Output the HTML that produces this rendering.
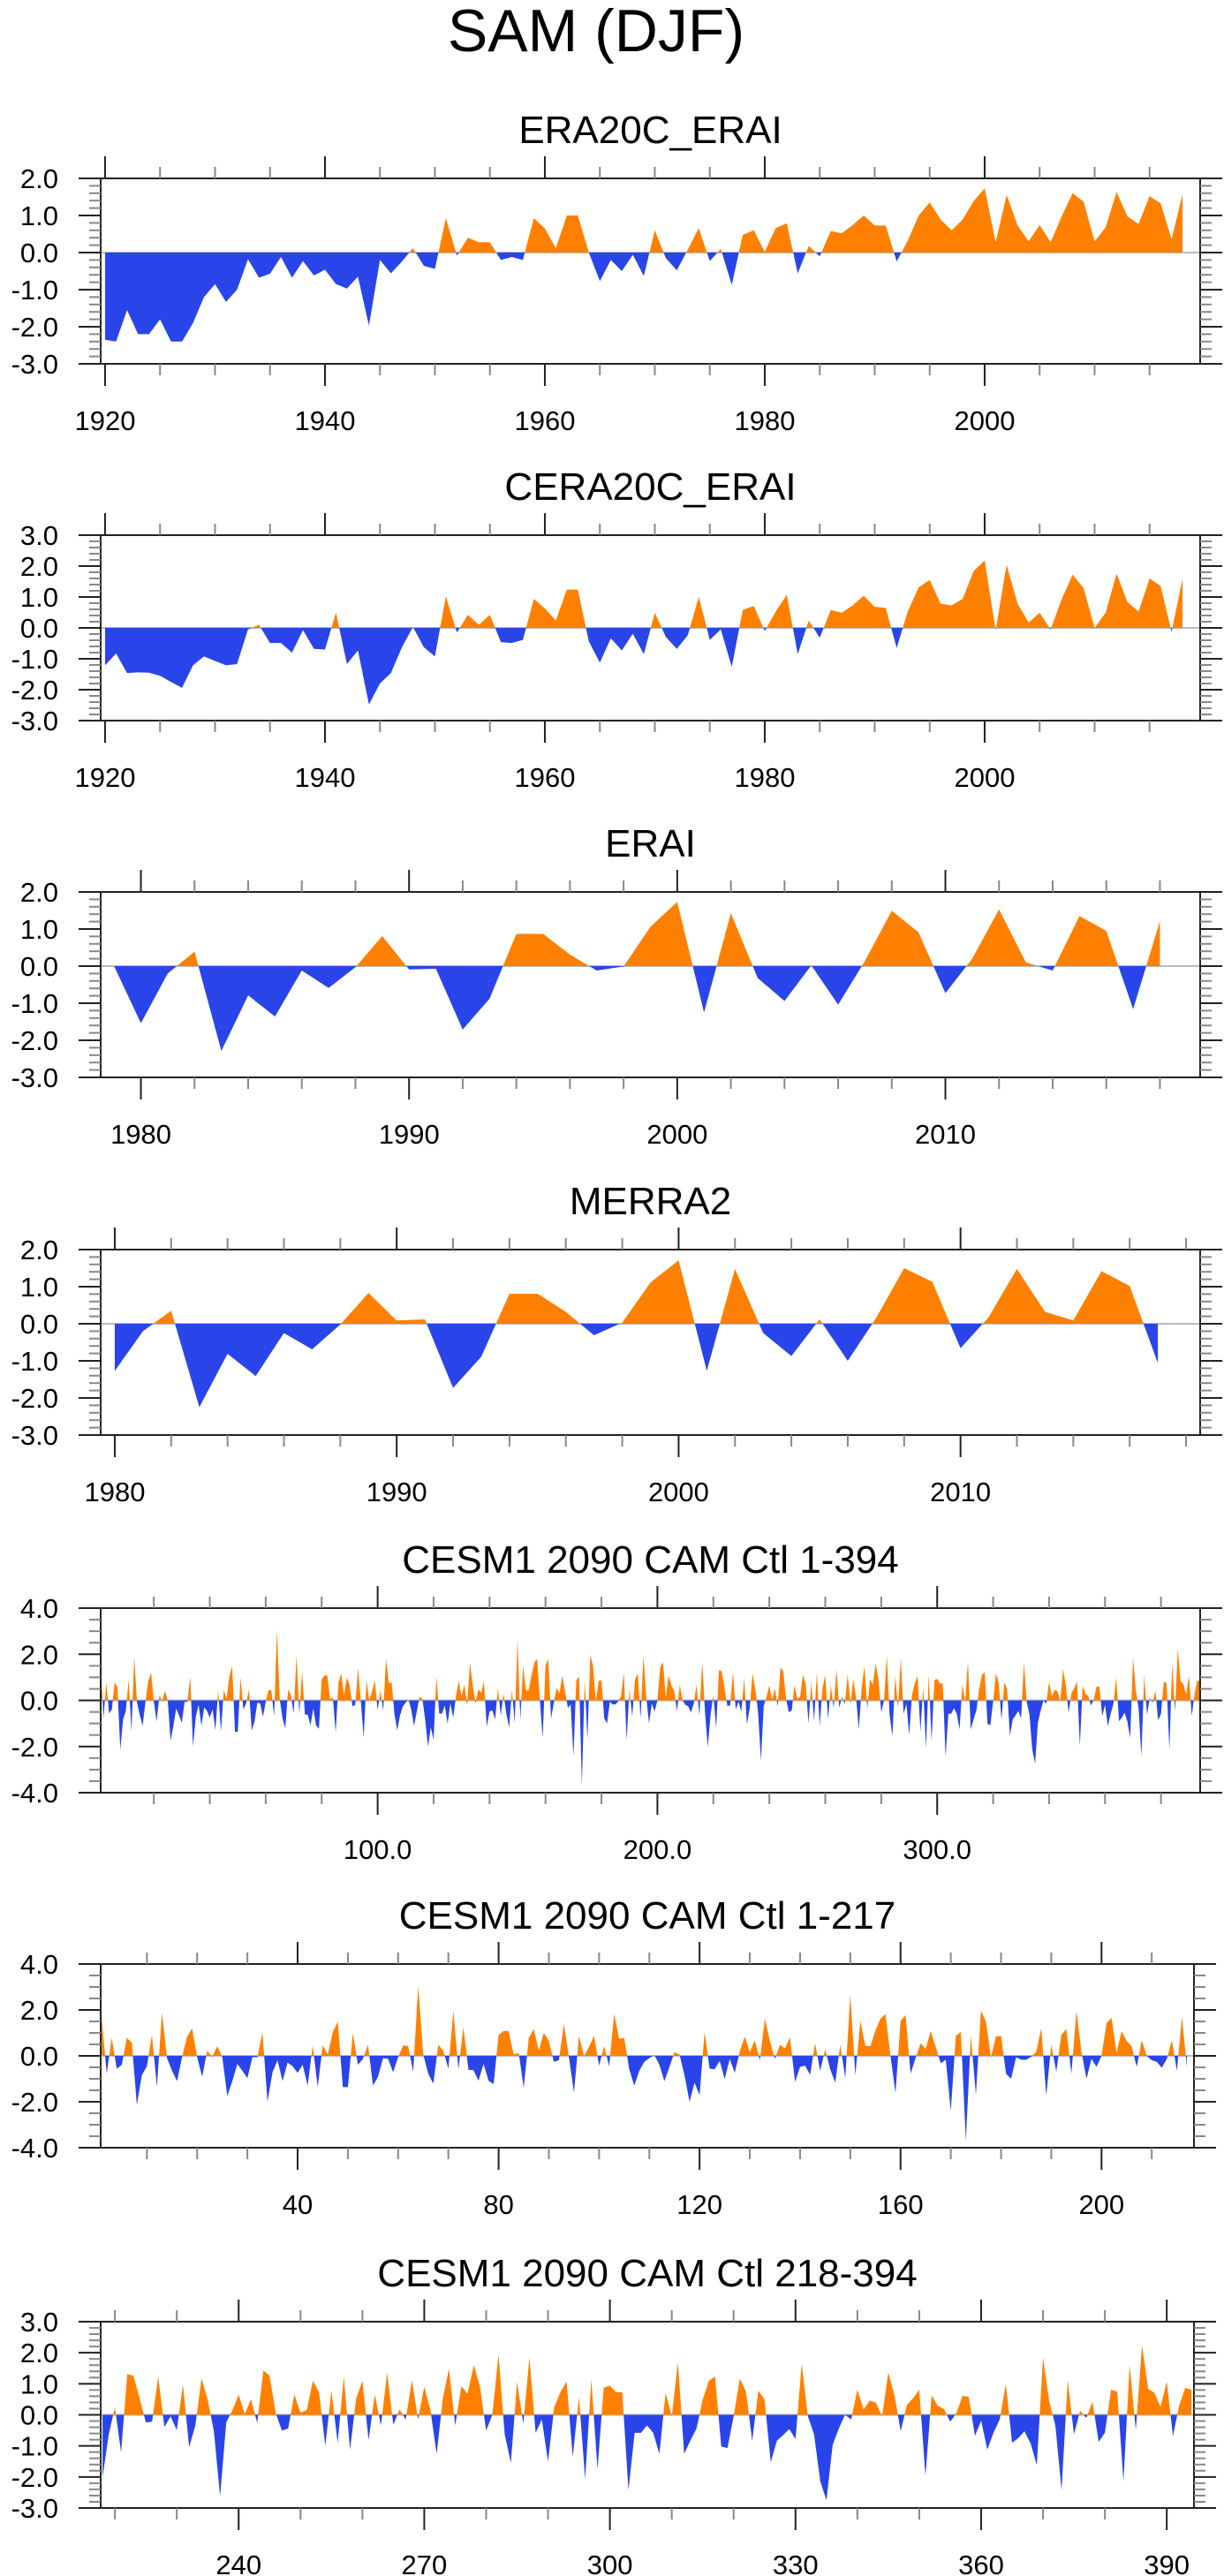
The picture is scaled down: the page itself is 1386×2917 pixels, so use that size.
<!DOCTYPE html>
<html><head><meta charset="utf-8"><title>SAM (DJF)</title>
<style>
html,body{margin:0;padding:0;background:#fff;}
svg{display:block;font-family:"Liberation Sans",Arial,sans-serif;}
</style></head>
<body>
<svg id="chart" width="1386" height="2917" viewBox="0 0 1386 2917" xmlns="http://www.w3.org/2000/svg">
<text x="675" y="58" font-size="68" text-anchor="middle">SAM (DJF)</text>
</svg>
<script>
// ---- data ----
const era20cYears = [1920,2018];
const era20cValues = [-2.35,-2.4,-1.55,-2.2,-2.2,-1.8,-2.4,-2.4,-1.9,-1.2,-0.85,-1.33,-1.0,-0.18,-0.68,-0.57,-0.12,-0.68,-0.23,-0.62,-0.46,-0.85,-0.97,-0.65,-1.97,-0.2,-0.56,-0.24,0.12,-0.36,-0.44,0.93,-0.08,0.4,0.28,0.28,-0.2,-0.12,-0.2,0.93,0.65,0.12,1.0,1.0,0.0,-0.77,-0.2,-0.5,-0.06,-0.63,0.6,-0.15,-0.48,0.08,0.66,-0.23,0.1,-0.87,0.48,0.6,0.02,0.66,0.79,-0.56,0.18,-0.1,0.58,0.52,0.74,1.0,0.73,0.73,-0.24,0.32,1.0,1.35,0.89,0.6,0.89,1.39,1.73,0.28,1.55,0.73,0.3,0.74,0.28,0.97,1.6,1.37,0.3,0.68,1.63,0.97,0.77,1.52,1.33,0.36,1.57];
const cera20cYears = [1920,2018];
const cera20cValues = [-1.21,-0.83,-1.46,-1.44,-1.45,-1.55,-1.75,-1.94,-1.21,-0.92,-1.07,-1.21,-1.17,-0.05,0.1,-0.49,-0.49,-0.8,-0.07,-0.68,-0.7,0.49,-1.17,-0.73,-2.48,-1.8,-1.46,-0.63,0.03,-0.63,-0.92,1.02,-0.15,0.42,0.1,0.42,-0.46,-0.49,-0.39,0.94,0.63,0.24,1.24,1.24,-0.44,-1.12,-0.34,-0.73,-0.19,-0.85,0.49,-0.29,-0.68,-0.24,1.0,-0.39,-0.05,-1.26,0.58,0.71,-0.1,0.53,1.07,-0.85,0.24,-0.32,0.58,0.49,0.73,1.04,0.68,0.65,-0.65,0.53,1.31,1.55,0.78,0.73,0.94,1.84,2.18,-0.07,2.04,0.78,0.17,0.49,-0.05,0.92,1.72,1.29,0.0,0.49,1.75,0.83,0.53,1.6,1.36,-0.13,1.6];
const eraiYears = [1979,2018];
const eraiValues = [0.0,-1.54,-0.2,0.39,-2.29,-0.79,-1.36,-0.12,-0.59,-0.03,0.81,-0.09,-0.07,-1.71,-0.88,0.87,0.87,0.31,-0.12,-0.01,1.06,1.73,-1.25,1.43,-0.32,-0.94,0.02,-1.04,0.14,1.49,0.91,-0.73,0.2,1.53,0.1,-0.12,1.35,0.95,-1.16,1.21];
const merra2Years = [1980,2017];
const merra2Values = [-1.27,-0.2,0.35,-2.25,-0.81,-1.41,-0.25,-0.69,-0.02,0.83,0.09,0.12,-1.73,-0.89,0.81,0.81,0.32,-0.31,0.03,1.11,1.71,-1.27,1.48,-0.25,-0.87,0.12,-1.0,0.15,1.5,1.13,-0.66,0.18,1.48,0.32,0.09,1.42,1.02,-1.06];
const cesmValues = [
1.7,-0.78,0.78,-0.56,-0.39,0.78,0.58,-2.14,-0.84,-0.45,0.91,-1.34,1.88,-0.1,-0.65,-1.1,-0.06,0.84,1.2,-0.05,
-0.91,0.22,-0.04,0.42,-0.04,-1.75,-1.1,-0.35,-0.65,-0.97,-0.06,-0.06,1.04,-2.0,-0.71,-0.19,-1.1,-0.3,-0.45,-0.74,
-0.39,-1.3,0.45,-1.36,0.45,0.06,1.04,1.49,-1.36,-1.36,1.0,-0.39,-0.13,0.49,-1.3,-0.91,-0.1,-0.13,-0.71,-0.06,
0.45,0.43,-0.69,3.05,0.06,-0.78,-1.21,0.48,0.22,-0.56,1.95,-0.58,1.26,-0.61,-0.62,-1.08,-0.35,-1.08,-1.23,0.91,
1.08,1.08,0.06,0.13,-1.39,0.78,1.17,0.22,1.0,0.65,-0.26,-0.19,1.39,-0.06,-1.6,0.87,0.0,0.39,0.87,-0.43,
0.43,-0.45,1.82,0.74,0.78,-0.58,-1.3,-0.65,-0.26,-0.1,0.04,-0.39,-1.1,-0.48,0.16,0.06,-0.84,-2.0,-1.17,-1.71,
1.04,-0.56,-0.58,-0.22,-1.01,-0.13,-0.74,0.19,0.84,0.17,0.68,-0.19,1.62,0.65,-0.13,0.48,0.32,0.81,-1.14,-0.48,
-0.43,-0.82,0.55,-0.65,0.29,-0.58,-1.17,0.48,-0.97,2.66,-0.84,1.52,0.43,0.43,1.1,1.62,1.82,0.0,-1.62,1.52,
1.78,-0.78,-0.09,0.55,0.3,1.08,0.39,-0.32,-0.17,-2.4,0.87,1.04,-3.7,0.87,-1.69,1.97,1.49,-0.06,0.84,0.87,
-0.78,-1.0,-0.06,-0.17,-0.17,-0.04,0.17,1.2,-1.73,0.48,-0.69,0.91,1.17,-0.78,1.95,0.19,-1.0,-0.13,-0.48,0.0,
1.43,1.65,0.13,1.08,0.65,0.42,-0.48,0.68,0.0,-0.19,-0.26,-0.52,-0.13,0.68,-0.65,1.69,-0.48,
-2.02,-0.63,0.24,-1.21,1.31,1.26,0.53,-0.24,-0.22,1.23,-0.39,-0.05,-0.49,0.97,-1.04,-0.34,1.17,0.49,-0.53,-2.62,
-0.24,0.15,0.65,0.03,0.51,-0.26,1.43,1.26,0.05,-0.51,-0.44,0.65,0.07,0.15,1.1,0.73,-1.0,0.78,-0.9,1.23,
-1.12,0.53,1.1,-0.81,0.65,-0.34,1.36,-0.32,0.17,-0.15,1.12,-0.15,0.9,0.15,-1.26,0.53,1.48,-0.34,0.92,0.68,
1.6,0.92,-0.51,0.0,1.94,-0.63,-1.55,1.07,-0.29,1.84,-0.58,-0.15,-1.5,0.24,0.73,1.07,-1.36,0.58,-2.07,1.14,
-1.75,0.87,0.94,0.73,0.73,-2.43,-0.58,-0.58,-0.34,-0.58,-1.26,0.71,-0.05,1.7,-1.26,-0.83,-0.44,0.49,1.1,1.23,
-1.02,-1.07,-0.05,1.17,0.75,-0.84,0.78,0.49,-1.52,-0.83,-0.65,-0.46,-0.78,1.65,-0.05,-0.63,-2.14,-2.75,-0.97,-0.44,
0.0,-0.15,0.81,0.17,0.46,0.39,-0.05,1.36,0.63,-0.53,0.32,0.53,0.81,-1.97,0.63,0.29,0.19,-0.22,0.05,0.61,
0.58,-0.68,-0.19,-1.12,-0.58,-0.15,1.0,-0.9,-0.75,-0.53,-0.92,-1.62,1.84,0.44,-0.34,-2.43,1.12,-0.63,0.13,-0.1,
0.42,-0.87,-0.58,0.81,0.75,-2.14,1.6,-0.49,2.23,0.83,0.71,0.26,1.07,-0.68,0.29,0.87,0.8];
const panelTitles = ["ERA20C_ERAI","CERA20C_ERAI","ERAI","MERRA2","CESM1 2090 CAM Ctl 1-394","CESM1 2090 CAM Ctl 1-217","CESM1 2090 CAM Ctl 218-394"];
const xTickLabels1 = [1920,1940,1960,1980,2000];
const xTickLabels3 = [1980,1990,2000,2010];
const xTickLabels5 = [100,200,300];
const xTickLabels6 = [40,80,120,160,200];
const xTickLabels7 = [240,270,300,330,360,390];

const NS = "http://www.w3.org/2000/svg";
const svg = document.getElementById('chart');
function mk(tag, attrs, parent){
  const e = document.createElementNS(NS, tag);
  for (const k in attrs) e.setAttribute(k, attrs[k]);
  (parent||svg).appendChild(e);
  return e;
}
function seq(a,b){const r=[];for(let i=a;i<=b;i++)r.push(i);return r;}

function panel(cfg, idx){
  const g = mk('g', {});
  
  
  const L=cfg.left, R=cfg.right, T=cfg.top, B=cfg.bottom;
  const xs = v => L + (v - cfg.xd[0])/(cfg.xd[1]-cfg.xd[0])*(R-L);
  const ys = v => T + (cfg.yd[1] - v)/(cfg.yd[1]-cfg.yd[0])*(B-T);
  const t = mk('text', {x:(L+R)/2, y:T-40, 'font-size':44, 'text-anchor':'middle'}, g);
  t.textContent = cfg.title;
  
  
  // area
  const cid = 'c'+idx;
  const defs = mk('defs', {}, g);
  const cpA = mk('clipPath', {id:cid+'a'}, defs);
  mk('rect', {x:L, y:T, width:R-L, height:ys(0)-T}, cpA);
  const cpB = mk('clipPath', {id:cid+'b'}, defs);
  mk('rect', {x:L, y:ys(0), width:R-L, height:B-ys(0)}, cpB);
  let pts = `${xs(cfg.x[0]).toFixed(2)},${ys(0).toFixed(2)} `;
  cfg.x.forEach((xv,i)=>{ pts += `${xs(xv).toFixed(2)},${ys(cfg.y[i]).toFixed(2)} `; });
  pts += `${xs(cfg.x[cfg.x.length-1]).toFixed(2)},${ys(0).toFixed(2)}`;
  const zl = mk('line', {x1:L, x2:R, y1:ys(0), y2:ys(0), stroke:'#bbb', 'stroke-width':2}, g);
  
  
  const pa = mk('polygon', {points:pts, fill:'#ff8000', 'clip-path':`url(#${cid}a)`}, g);
  
  
  const pb = mk('polygon', {points:pts, fill:'#2945ea', 'clip-path':`url(#${cid}b)`}, g);
  
  
  // frame
  const fr = mk('rect', {x:L, y:T, width:R-L, height:B-T, fill:'none', stroke:'#222', 'stroke-width':2}, g);
  
  
  // y ticks
  const ny = Math.round((cfg.yd[1]-cfg.yd[0])/cfg.yMinor);
  for (let k=0;k<=ny;k++){
    const v = cfg.yd[0] + k*cfg.yMinor;
    const yy = ys(v);
    const major = Math.abs(v/cfg.yMajor - Math.round(v/cfg.yMajor))<1e-6;
    const len = major?25:13, col = major?'#222':'#888';
    mk('line',{x1:L-len,x2:L,y1:yy,y2:yy,stroke:col,'stroke-width':2},g);
    mk('line',{x1:R,x2:R+len,y1:yy,y2:yy,stroke:col,'stroke-width':2},g);
    if (major){
      const lb = mk('text',{x:66,y:yy+11,'font-size':31,'text-anchor':'end'},g);
      lb.textContent = v.toFixed(1);
      
      
    }
  }
  // x ticks
  const start = Math.ceil(cfg.xd[0]/cfg.xMinor)*cfg.xMinor;
  for (let v=start; v<=cfg.xd[1]+1e-9; v+=cfg.xMinor){
    const xx = xs(v);
    const major = cfg.xLabels.indexOf(v)>=0 || (cfg.xMajorExtra||[]).indexOf(v)>=0;
    const len = major?25:13, col = major?'#222':'#888';
    mk('line',{x1:xx,x2:xx,y1:T-len,y2:T,stroke:col,'stroke-width':2},g);
    mk('line',{x1:xx,x2:xx,y1:B,y2:B+len,stroke:col,'stroke-width':2},g);
  }
  cfg.xLabels.forEach(v=>{
    const lb = mk('text',{x:xs(v),y:B+75,'font-size':31,'text-anchor':'middle'},g);
    lb.textContent = cfg.fmt ? cfg.fmt(v) : String(v);
    
    
  });
}

const cesmIdx = seq(1, cesmValues.length);
const cfgs = [
 {title:panelTitles[0], top:202,bottom:412,left:114,right:1359,xd:[1919.6,2019.6],yd:[-3,2],yMajor:1,yMinor:0.2,xMinor:5,xLabels:xTickLabels1,
  x:seq(era20cYears[0],era20cYears[1]), y:era20cValues},
 {title:panelTitles[1], top:606,bottom:816,left:114,right:1359,xd:[1919.6,2019.6],yd:[-3,3],yMajor:1,yMinor:0.2,xMinor:5,xLabels:xTickLabels1,
  x:seq(cera20cYears[0],cera20cYears[1]), y:cera20cValues},
 {title:panelTitles[2], top:1010,bottom:1220,left:114,right:1359,xd:[1978.5,2019.5],yd:[-3,2],yMajor:1,yMinor:0.2,xMinor:2,xLabels:xTickLabels3,
  x:seq(eraiYears[0],eraiYears[1]), y:eraiValues},
 {title:panelTitles[3], top:1415,bottom:1625,left:114,right:1359,xd:[1979.5,2018.5],yd:[-3,2],yMajor:1,yMinor:0.2,xMinor:2,xLabels:xTickLabels3,
  x:seq(merra2Years[0],merra2Years[1]), y:merra2Values},
 {title:panelTitles[4], top:1821,bottom:2030,left:114,right:1359,xd:[1,394],yd:[-4,4],yMajor:2,yMinor:0.5,xMinor:20,xLabels:xTickLabels5,
  x:cesmIdx, y:cesmValues, fmt:v=>v.toFixed(1)},
 {title:panelTitles[5], top:2224,bottom:2432,left:114,right:1352,xd:[0.8,218.4],yd:[-4,4],yMajor:2,yMinor:0.5,xMinor:10,xLabels:xTickLabels6,
  x:cesmIdx.slice(0,217), y:cesmValues.slice(0,217)},
 {title:panelTitles[6], top:2629,bottom:2840,left:114,right:1352,xd:[217.7,394.4],yd:[-3,3],yMajor:1,yMinor:0.2,xMinor:10,xLabels:xTickLabels7,
  x:cesmIdx.slice(217), y:cesmValues.slice(217)}
];
cfgs.forEach((c,i)=>panel(c,i));
</script>
</body></html>
